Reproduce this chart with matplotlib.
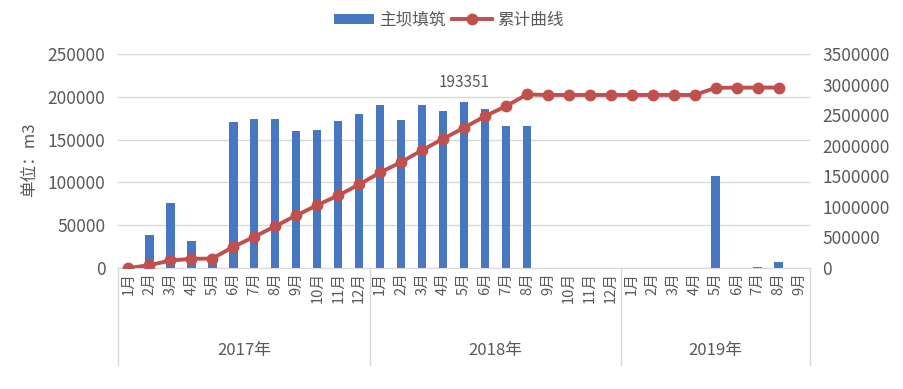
import matplotlib
matplotlib.use("Agg")
import matplotlib.pyplot as plt
import matplotlib.transforms as mtransforms
from matplotlib.lines import Line2D
from matplotlib.patches import Patch
from matplotlib.ticker import FuncFormatter
import numpy as np

plt.rcParams['font.family'] = ['Noto Sans CJK SC', 'DejaVu Sans']

years = ['2017年', '2018年', '2019年']
months_per_year = [12, 12, 9]
month_labels = [f'{m}月' for n in months_per_year for m in range(1, n + 1)]

# 主坝填筑 (left axis, m3)
fill_2017 = [0, 39000, 76000, 32000, 8000, 170000, 174500, 174500, 159500, 161500, 171500, 180000]
fill_2018 = [190000, 173000, 190000, 183000, 193351, 186000, 166000, 166000, 0, 0, 0, 0]
fill_2019 = [0, 0, 0, 0, 107000, 0, 1500, 7000, 0]

# 累计曲线 (right axis, m3)
cum_2017 = [0, 46000, 123000, 150000, 155000, 347000, 510000, 684000, 859000, 1028000, 1186000, 1366000]
cum_2018 = [1562000, 1731000, 1927000, 2113000, 2293000, 2483000, 2646000, 2838000,
            2830000, 2830000, 2830000, 2830000]
cum_2019 = [2830000, 2830000, 2830000, 2830000, 2947000, 2950000, 2950000, 2952000, np.nan]

fill = fill_2017 + fill_2018 + fill_2019
cum = cum_2017 + cum_2018 + cum_2019
label_value = 193351

grey = '#595959'
grid_c = '#D9D9D9'
bar_c = '#4677C0'
line_c = '#C0504D'

W, H = 904, 389
fig = plt.figure(figsize=(W / 100, H / 100), dpi=100)
ax = fig.add_axes([118 / W, 1 - 268 / H, (810 - 118) / W, (268 - 54) / H])
ax2 = ax.twinx()

plain = FuncFormatter(lambda v, p: f'{int(round(v))}')

x = np.arange(len(fill))
ax.bar(x, fill, width=0.4, color=bar_c, zorder=2)
ax.set_xlim(-0.5, len(fill) - 0.5)
ax.set_ylim(0, 250000)
ax.set_yticks(np.arange(0, 250001, 50000))
ax.yaxis.set_major_formatter(plain)
ax.yaxis.grid(True, color=grid_c, linewidth=1, zorder=0)
ax.set_axisbelow(True)
ax.set_xticks([])
for s in ['top', 'left', 'right']:
    ax.spines[s].set_visible(False)
ax.spines['bottom'].set_color(grid_c)
ax.tick_params(axis='y', length=0, pad=9, labelsize=12.5, labelcolor=grey)

ax2.plot(x, cum, color=line_c, linewidth=2.8, marker='o', markersize=7.5,
         markerfacecolor=line_c, markeredgecolor=line_c, zorder=3)
ax2.set_ylim(0, 3500000)
ax2.set_yticks(np.arange(0, 3500001, 500000))
ax2.yaxis.set_major_formatter(plain)
for s in ['top', 'left', 'right', 'bottom']:
    ax2.spines[s].set_visible(False)
ax2.tick_params(axis='y', length=0, pad=9, labelsize=12.5, labelcolor=grey)

# data label
i_lab = fill.index(label_value)
ax.annotate(f'{label_value}', xy=(i_lab, label_value), xytext=(0, 8),
            textcoords='offset points', ha='center', va='bottom',
            fontsize=11, color=grey)

# multi-level category axis
trans = mtransforms.blended_transform_factory(ax.transData, ax.transAxes)
for i, lab in enumerate(month_labels):
    ax.text(i, -0.02, lab, transform=trans, rotation=90, ha='center', va='top',
            fontsize=10.5, color=grey)
start = -0.5
bounds = [start]
for n in months_per_year:
    bounds.append(bounds[-1] + n)
for b in bounds:
    ax.plot([b, b], [0, -0.455], transform=trans, color=grid_c, linewidth=1,
            clip_on=False)
for k, yr in enumerate(years):
    ax.text((bounds[k] + bounds[k + 1]) / 2, -0.385, yr, transform=trans,
            ha='center', va='center', fontsize=12, color=grey)

fig.text(30 / W, 1 - 160 / H, '单位：m3', rotation=90, ha='center', va='center',
         fontsize=12, color=grey)

handles = [Patch(facecolor=bar_c, edgecolor='none', label='主坝填筑'),
           Line2D([0], [0], color=line_c, linewidth=2.8, marker='o', markersize=7.5,
                  label='累计曲线')]
fig.legend(handles=handles, loc='center', bbox_to_anchor=(449 / W, 1 - 20 / H),
           ncol=2, frameon=False, fontsize=12, handlelength=2.4, handleheight=0.55,
           handletextpad=0.3, columnspacing=0.4, labelcolor=grey)

fig.savefig('out.png', dpi=100)
